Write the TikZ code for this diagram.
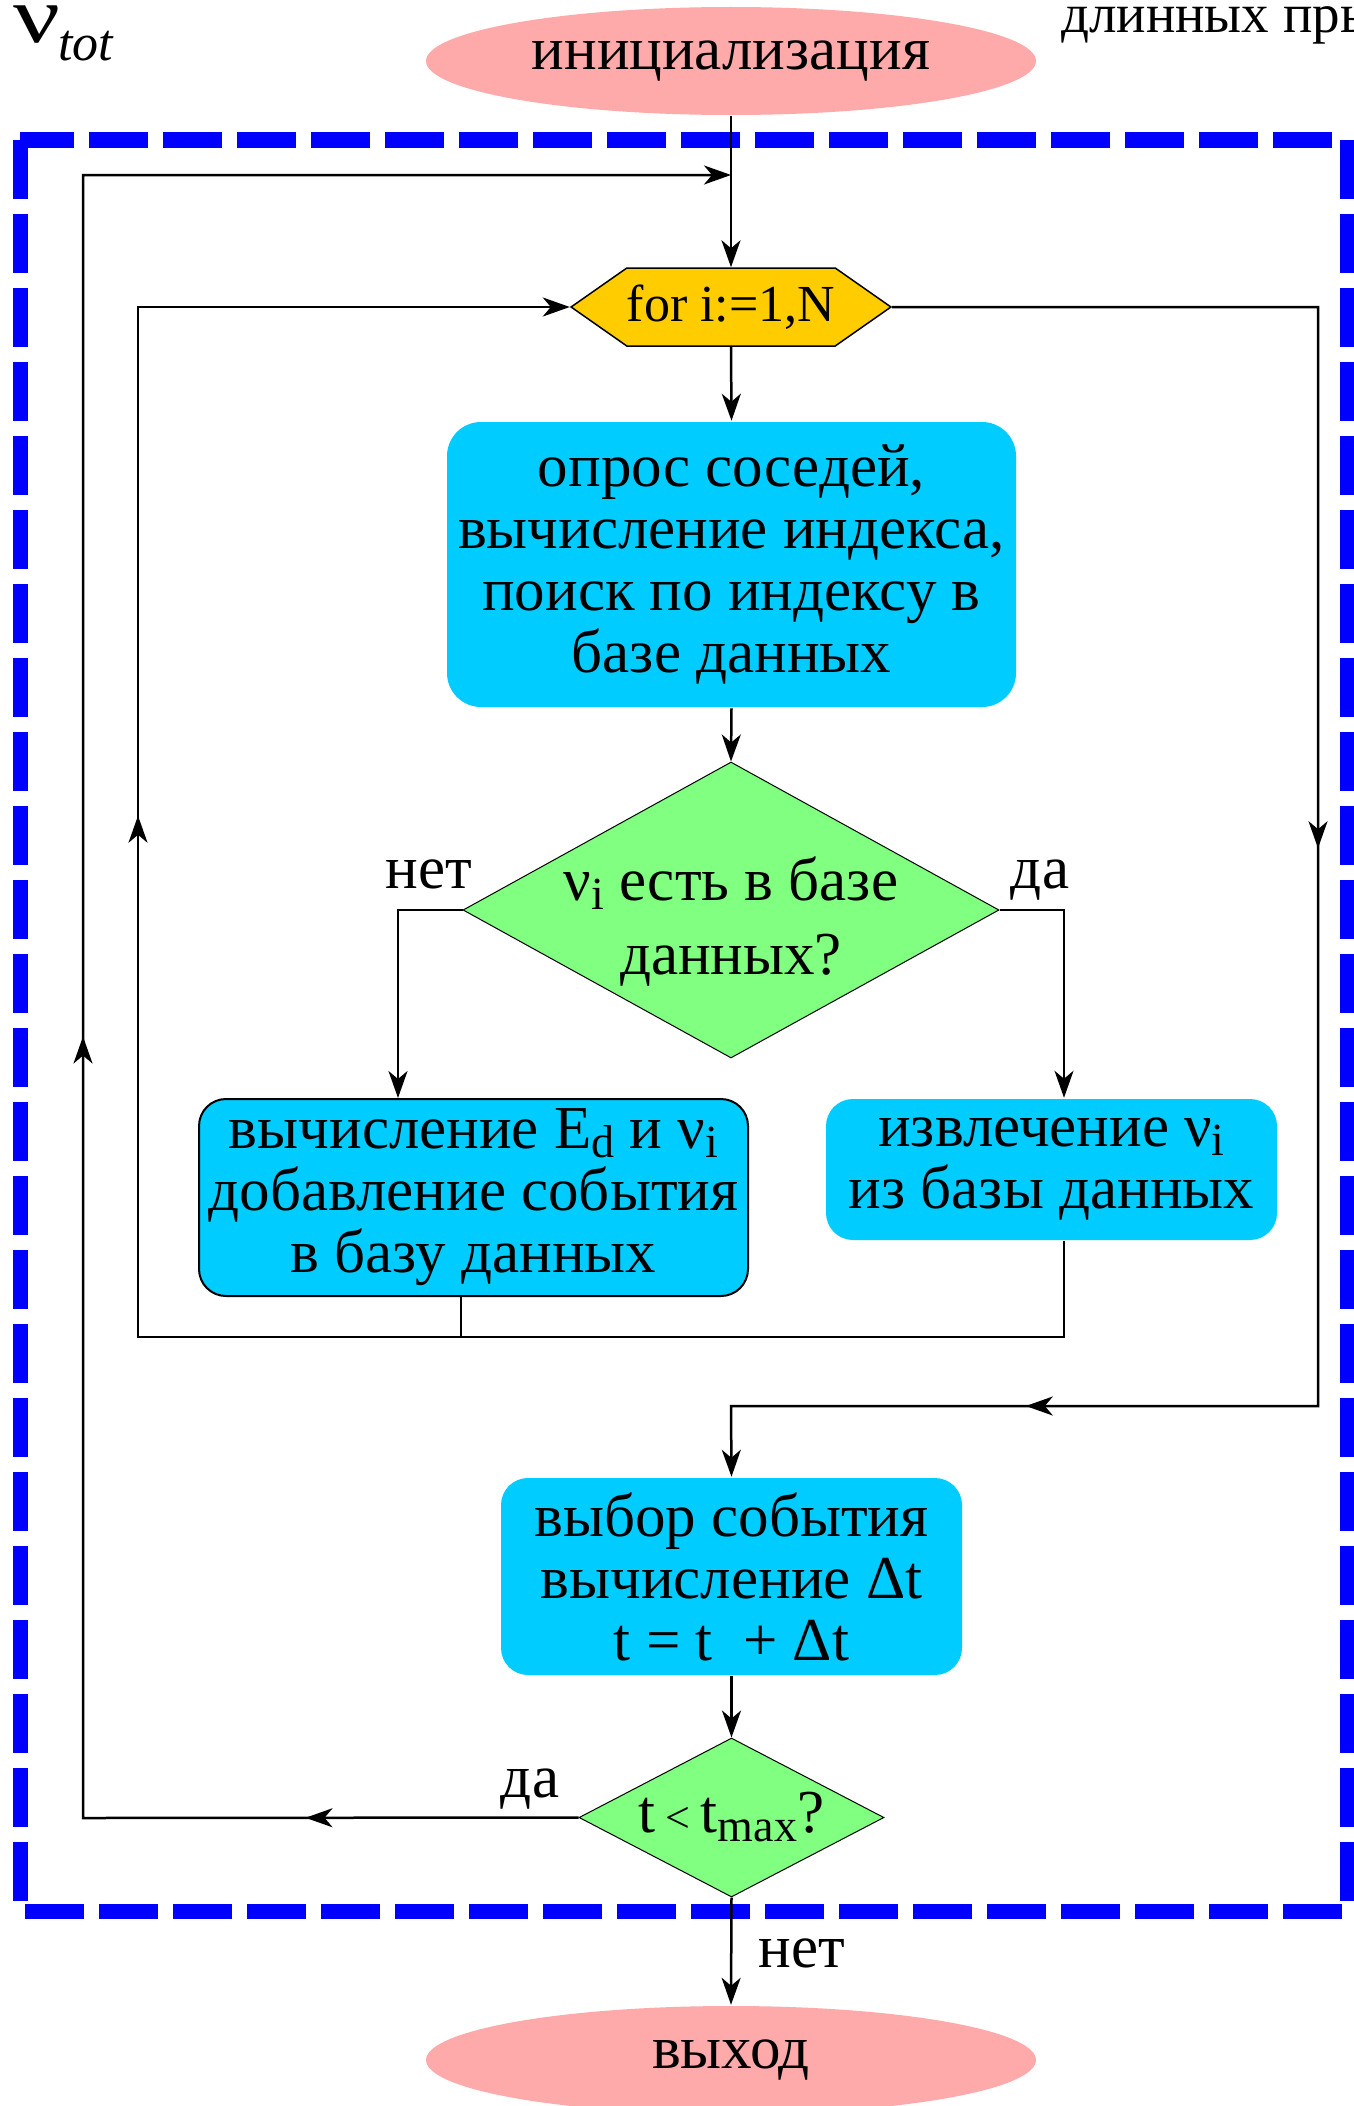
\documentclass[tikz,border=0pt]{standalone}
\usepackage{fontspec}
\setmainfont{Liberation Serif}
\usetikzlibrary{shapes.geometric,shapes.symbols,arrows.meta,decorations.markings}
\definecolor{termpink}{HTML}{FFAAAA}
\definecolor{boxcyan}{HTML}{00CCFF}
\definecolor{condgreen}{HTML}{80FF80}
\definecolor{loopgold}{HTML}{FFCC00}
\newcommand{\lowsub}[1]{\raisebox{-9pt}{\fontsize{46}{46}\selectfont #1}}

\begin{document}
\begin{tikzpicture}[
    x=1pt, y=-1pt,
    line width=2.5pt,
    >={Stealth[length=27pt,width=19pt,inset=8pt]},
    txt/.style={font=\fontsize{61}{62}\selectfont, align=center, inner sep=0pt},
    term/.style={ellipse, fill=termpink, minimum width=610pt, minimum height=108pt, txt},
    proc/.style={rounded corners=27pt, fill=boxcyan, txt},
    cond/.style={diamond, fill=condgreen, draw=black, line width=1pt, inner sep=0pt},
    loopbox/.style={signal, signal to=west and east, signal pointer angle=70, fill=loopgold, draw=black, line width=1.5pt, minimum width=294pt, minimum height=78pt, txt},
    frame/.style={draw=blue, line width=15pt, dash pattern=on 59pt off 15pt},
    tipat/.style={postaction={decorate, decoration={markings, mark=at position #1 with {\arrow{>}}}}},
    ]
    \useasboundingbox (0,0) rectangle (1354,2106);
    \draw[frame] (20,140) rectangle (1347,1911);

    \node[txt, anchor=base west] (nutot) at (12,43) {{\fontsize{80}{80}\selectfont\scalebox{1.3}[1]{ν}}\hspace{-2pt}\raisebox{-18pt}{\fontsize{52}{52}\selectfont\itshape tot}};
    \node[txt, anchor=base west, font=\fontsize{55}{55}\selectfont] (jumps) at (1060,33) {длинных пры};

    \node[term] (init) at (731,61) {инициализация};
    \node[loopbox] (loop) at (731,307) {\fontsize{52}{52}\selectfont for i:=1,N};
    \node[proc, rounded corners=34pt, minimum width=569pt, minimum height=285pt] (look) at (731.5,564.5)
        {опрос соседей,\\вычисление индекса,\\поиск по индексу в\\базе данных};
    \node[cond, minimum width=536pt, minimum height=296pt] (check) at (731,910) {};
    \node[txt] (checktxt) at (731,922) {ν\lowsub{i} есть в базе\\[12pt]данных?};
    \node[proc, draw=black, line width=2pt, minimum width=549pt, minimum height=197pt] (calc) at (473.5,1197.5)
        {вычисление E\lowsub{d} и ν\lowsub{i}\\добавление события\\в базу данных};
    \node[proc, minimum width=451pt, minimum height=141pt] (fetch) at (1051.5,1169.5)
        {\rule{0pt}{12pt}извлечение ν\lowsub{i}\\из базы данных};
    \node[proc, minimum width=461pt, minimum height=197pt] (pick) at (731.5,1576.5)
        {выбор события\\вычисление Δt\\t = t \ + Δt};
    \node[cond, minimum width=305pt, minimum height=159pt] (stop) at (731.5,1817.5) {};
    \node[txt] (stoptxt) at (stop) {t\,{\fontsize{44}{44}\selectfont<}\,t\lowsub{max}?};
    \node[term] (done) at (731,2060) {выход};

    \node[txt, anchor=base] (no1) at (429,888) {нет};
    \node[txt, anchor=base] (yes1) at (1040,888) {да};
    \node[txt, anchor=base] (yes2) at (530,1797) {да};
    \node[txt, anchor=base] (no2) at (802,1967) {нет};

    % bends of the connectors
    \coordinate (jtop) at (731,175);
    \coordinate (outb) at (83,1818);
    \coordinate (outt) at (83,175);
    \coordinate (inb) at (138,1337);
    \coordinate (int) at (138,307);
    \coordinate (rj) at (461,1337);
    \coordinate (yj) at (1064,1337);
    \coordinate (rt) at (1318,307);
    \coordinate (rb) at (1318,1406);
    \coordinate (rm) at (731,1406);
    \coordinate (nl) at (398,910);
    \coordinate (yr) at (1064,910);

    \draw[->] (init.south) -- (loop.north);
    \draw[->, tipat=273pt, tipat=1277pt] (stop.west) -- (outb) -- (outt) -- (jtop);
    \draw[->] (loop.south) -- (look.north);
    \draw[->] (look.south) -- (check.north);
    \draw[->] (check.west) -- (nl) -- (nl |- calc.north);
    \draw[->] (check.east) -- (yr) -- (yr |- fetch.north);
    \draw (calc.south -| rj) -- (rj);
    \draw[->, tipat=1543pt] (fetch.south -| yj) -- (yj) -- (inb) -- (int) -- (loop.west);
    \draw[->, tipat=967pt, tipat=1817pt] (loop.east) -- (rt) -- (rb) -- (rm) -- (pick.north);
    \draw[->] (pick.south) -- (stop.north);
    \draw[->] (stop.south) -- (done.north);
\end{tikzpicture}
\end{document}
